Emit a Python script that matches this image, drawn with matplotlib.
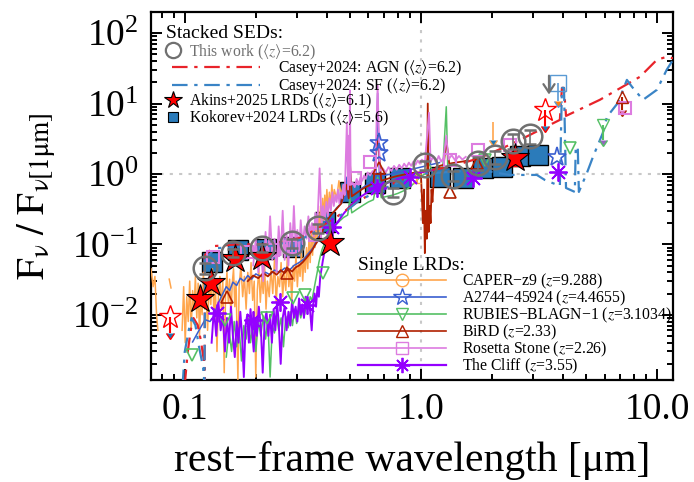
import numpy as np
import matplotlib.pyplot as plt
from matplotlib.lines import Line2D
from matplotlib.ticker import FixedLocator, FixedFormatter, LogLocator, NullFormatter

plt.rcParams['font.family'] = ['Liberation Serif', 'DejaVu Serif']
plt.rcParams['mathtext.fontset'] = 'stix'

nan = np.nan

# ---- stacked SEDs ----
stack_wave = [0.122, 0.160, 0.212, 0.284, 0.366, 0.761, 1.04, 1.37, 1.74, 2.06, 2.45, 2.90]
stack_flux = [0.046, 0.075, 0.089, 0.104, 0.171, 0.555, 1.34, 0.94, 1.43, 1.75, 2.95, 3.47]
stack_err = [0.008, 0.010, 0.012, 0.014, 0.025, 0.08, 0.2, 0.15, 0.3, 0.35, 0.7, 0.8]
stack_lim_wave = [3.49]
stack_lim_flux = [27.3]

akins_wave = [0.116, 0.129, 0.163, 0.212, 0.411, 2.50]
akins_flux = [0.0167, 0.0282, 0.0618, 0.066, 0.105, 1.69]
akins_err = [0.003, 0.005, 0.008, 0.008, 0.015, 0.4]
akins_lim_wave = [0.0863, 3.35]
akins_lim_flux = [0.00924, 8.13]

kok_wave = [0.130, 0.168, 0.220, 0.287, 0.392, 0.500, 0.638, 0.815, 1.20, 1.51, 1.83, 2.20, 2.63, 3.13]
kok_flux = [0.056, 0.083, 0.086, 0.092, 0.21, 0.555, 0.745, 0.877, 0.906, 0.877, 1.22, 1.26, 1.80, 1.86]
kok_lim_wave = [3.81]
kok_lim_flux = [19.7]

agn_wave = [0.100, 0.103, 0.106, 0.109, 0.1135, 0.117, 0.1205, 0.1214, 0.1218, 0.134, 0.171,
            0.229, 0.307, 0.411, 0.552, 0.739, 0.99, 1.33, 1.78, 2.38, 2.90, 3.45, 3.88, 3.96,
            4.04, 4.12, 5.73, 8.47, 10.0, 11.0, 11.7]
agn_flux = [0.0010, 0.00294, 0.0060, 0.00895, 0.00711, 0.00435, 0.00226, 0.0010, 0.0705, 0.0946, 0.100,
            0.100, 0.123, 0.207, 0.427, 0.698, 1.07, 1.26, 1.69, 2.59, 3.59, 4.82, 5.86, 16.7,
            16.7, 6.68, 11.3, 24.0, 41.9, 46.2, 44.0]

sf_wave = [0.098, 0.100, 0.104, 0.107, 0.111, 0.115, 0.1196, 0.1212, 0.1220, 0.134, 0.171,
           0.229, 0.307, 0.411, 0.552, 0.739, 0.99, 1.33, 1.78, 2.38, 3.10, 3.35, 3.88, 3.96,
           4.04, 4.12, 4.49, 4.53, 4.62, 4.67, 5.05, 5.36, 5.90, 6.14, 6.83, 7.46, 7.84, 8.73,
           10.0, 11.0, 11.7]
sf_flux = [0.0010, 0.00294, 0.0060, 0.00895, 0.0071, 0.0035, 0.0018, 0.0010, 0.0598, 0.088, 0.0916,
           0.0946, 0.115, 0.194, 0.427, 0.675, 1.0, 1.07, 1.14, 0.968, 0.968, 0.822, 0.675, 16.7,
           16.7, 0.632, 0.555, 2.42, 2.42, 0.555, 1.03, 1.75, 3.83, 6.47, 10.2, 21.7, 17.3, 11.3,
           15.7, 30.2, 41.9]

# ---- single LRDs: spectra ----
caper_wave = [0.072, 0.0735, 0.0748, 0.0760, 0.0770, nan, 0.0860, 0.0875, nan,
              0.0975, 0.0990, 0.1005, 0.1020, 0.1035, 0.1050, 0.1065, 0.1080, 0.1095, 0.1110,
              0.1125, 0.1140, 0.1155, 0.1170, 0.1185, 0.1200, 0.1215, 0.1230, 0.1250, 0.1270,
              0.1290, 0.1310, 0.1330, 0.1350, 0.1370, 0.1390, 0.1410, 0.1430, 0.1450, 0.1470,
              0.1490, 0.1510, 0.1530, 0.1550, 0.1570, 0.1590, 0.1610, 0.1630, 0.1650, 0.1680,
              0.1700, 0.1730, 0.1760, 0.1790, 0.1820, 0.1850, 0.1880, 0.1910, 0.1940, 0.1970,
              0.2000, 0.2030, 0.2060, 0.2090, 0.2120, 0.2150, 0.2180, 0.2210, 0.2240, 0.2280,
              0.2320, 0.2360, 0.2400, 0.2440, 0.2480, 0.2520, 0.2560, 0.2600, 0.2640, 0.2680,
              0.2720, 0.2760, 0.2800, 0.2840, 0.2880, 0.2920, 0.2960, 0.3000, 0.3040, 0.3080,
              0.3120, 0.3160, 0.3200, 0.3240, 0.3280, 0.3320, 0.3360, 0.3400, 0.3440, 0.3480,
              0.3520, 0.3560, 0.3600, 0.3640, 0.3680, 0.3720, 0.3760, 0.3800, 0.3840, 0.3880,
              0.3920, 0.3960, 0.4000, 0.4050, 0.4100, 0.4150, 0.4200, 0.4250, 0.4300, 0.4400,
              0.4500, 0.4600, 0.4700, 0.4800]
caper_flux = [0.045, 0.025, 0.035, 0.010, 0.006, nan, 0.032, 0.024, nan,
              0.006, 0.025, 0.004, 0.018, 0.008, 0.030, 0.006, 0.022, 0.012, 0.035,
              0.009, 0.028, 0.005, 0.018, 0.010, 0.040, 0.012, 0.025, 0.006, 0.030,
              0.014, 0.045, 0.010, 0.025, 0.003, 0.020, 0.035, 0.012, 0.030, 0.0015,
              0.022, 0.040, 0.015, 0.032, 0.009, 0.028, 0.045, 0.013, 0.030, 0.0012,
              0.025, 0.050, 0.018, 0.035, 0.012, 0.040, 0.020, 0.055, 0.016, 0.030,
              0.0013, 0.022, 0.045, 0.015, 0.035, 0.020, 0.050, 0.012, 0.030, 0.018,
              0.045, 0.020, 0.060, 0.015, 0.035, 0.025, 0.055, 0.018, 0.040, 0.022,
              0.065, 0.025, 0.045, 0.015, 0.050, 0.030, 0.070, 0.025, 0.055, 0.035,
              0.080, 0.030, 0.065, 0.040, 0.090, 0.045, 0.12, 0.055, 0.15, 0.07,
              0.18, 0.09, 0.25, 0.11, 0.30, 0.14, 0.35, 0.18, 0.45, 0.22,
              0.50, 0.28, 0.60, 0.30, 0.55, 0.35, 0.70, 0.40, 0.60, 0.45,
              0.80, 0.50, 0.70, 0.55]

a2744_wave = [0.108, 0.115, 0.122, 0.128, 0.132, 0.138, 0.144, 0.150, 0.155, 0.160, 0.166, 0.172,
              0.178, 0.185, 0.192, 0.200, 0.210, 0.220, 0.230, 0.240, 0.252, 0.265, 0.278, 0.290,
              0.305, 0.320, 0.335, 0.350, 0.365, 0.380, 0.395, 0.410, 0.425, 0.440, 0.460, 0.480,
              0.4861, 0.492, 0.5007, 0.510, 0.530, 0.560, 0.590, 0.620, 0.645, 0.6563, 0.668,
              0.700, 0.750, 0.800, 0.850, 0.900, 0.950, 1.000, 1.050, 1.083, 1.100, 1.150, 1.200]
a2744_flux = [0.0041, 0.006, 0.0085, 0.008, 0.0093, 0.014, 0.019, 0.025, 0.022, 0.029, 0.026, 0.033,
              0.030, 0.036, 0.032, 0.038, 0.035, 0.040, 0.037, 0.043, 0.040, 0.046, 0.043, 0.050,
              0.055, 0.062, 0.075, 0.090, 0.12, 0.15, 0.19, 0.23, 0.28, 0.33, 0.38, 0.45,
              0.9, 0.47, 1.2, 0.5, 0.55, 0.62, 0.70, 0.78, 0.85, 14.0, 0.9,
              0.95, 1.0, 1.05, 1.1, 1.15, 1.2, 1.25, 1.3, 2.0, 1.35, 1.4, 1.45]

rubies_wave = [0.150, 0.154, 0.158, 0.162, 0.166, 0.170, 0.174, 0.178, 0.182, 0.186, 0.190, 0.195,
               0.200, 0.205, 0.210, 0.215, 0.220, 0.225, 0.230, 0.235, 0.240, 0.245, 0.250, 0.256,
               0.262, 0.268, 0.274, 0.280, 0.286, 0.292, 0.298, 0.304, 0.310, 0.316, 0.322, 0.328,
               0.334, 0.340, 0.346, 0.352, 0.358, 0.364, 0.370, 0.376, 0.382, 0.390, 0.400, 0.415,
               0.430, 0.450, 0.470, 0.490, 0.5007, 0.510, 0.540, 0.570, 0.600, 0.630, 0.6563, 0.680,
               0.720, 0.760, 0.800, 0.850, 0.900, 0.950, 1.000, 1.050, 1.083, 1.120, 1.180, 1.240,
               1.2818, 1.300]
rubies_flux = [0.0025, 0.006, 0.003, 0.008, 0.0035, 0.0065, 0.0022, 0.007, 0.0045, 0.009, 0.004, 0.0075,
               0.003, 0.008, 0.005, 0.0095, 0.0045, 0.0085, 0.0013, 0.007, 0.0055, 0.010, 0.006, 0.009,
               0.0035, 0.0095, 0.0065, 0.011, 0.007, 0.012, 0.0075, 0.013, 0.009, 0.012, 0.010, 0.015,
               0.012, 0.018, 0.016, 0.022, 0.030, 0.040, 0.055, 0.070, 0.085, 0.10, 0.12, 0.15,
               0.18, 0.21, 0.24, 0.26, 0.45, 0.28, 0.32, 0.36, 0.40, 0.43, 0.9, 0.46,
               0.48, 0.50, 0.53, 0.58, 0.65, 0.78, 0.92, 1.02, 1.4, 1.10, 1.18, 1.25,
               9.0, 1.28]

bird_wave = [0.185, 0.195, 0.205, 0.215, 0.225, 0.235, 0.245, 0.255, 0.265, 0.275, 0.285, 0.295,
             0.305, 0.315, 0.325, 0.335, 0.345, 0.355, 0.365, 0.375, 0.385, 0.395, 0.405, 0.420,
             0.440, 0.460, 0.4861, 0.495, 0.5007, 0.510, 0.540, 0.570, 0.600, 0.630, 0.6563, 0.680,
             0.720, 0.760, 0.800, 0.850, 0.900, 0.950, 1.000, 1.010, 1.020, 1.030, 1.040, 1.050,
             1.060, 1.070, 1.080, 1.090, 1.100, 1.110, 1.120, 1.140, 1.160, 1.200, 1.250, 1.2818,
             1.320, 1.400, 1.500, 1.580]
bird_flux = [0.030, 0.036, 0.033, 0.039, 0.035, 0.041, 0.037, 0.043, 0.039, 0.045, 0.041, 0.047,
             0.050, 0.055, 0.062, 0.07, 0.08, 0.095, 0.11, 0.13, 0.16, 0.19, 0.23, 0.27,
             0.32, 0.38, 0.7, 0.45, 1.5, 0.48, 0.55, 0.62, 0.68, 0.74, 3.5, 0.80,
             0.85, 0.90, 0.94, 0.98, 1.02, 1.05, 1.05, 0.5, 0.2, 0.6, 0.075, 0.3,
             0.12, 10.0, 0.15, 0.35, 0.2, 0.6, 0.4, 1.1, 1.25, 1.30, 1.35, 3.0,
             1.40, 1.45, 1.50, 1.55]

rosetta_wave = [0.195, 0.200, 0.205, 0.210, 0.215, 0.220, 0.225, 0.230, 0.235, 0.240, 0.245, 0.250,
                0.255, 0.260, 0.265, 0.270, 0.275, 0.280, 0.285, 0.290, 0.295, 0.300, 0.305, 0.310,
                0.316, 0.322, 0.328, 0.334, 0.340, 0.346, 0.352, 0.358, 0.364, 0.3727, 0.380, 0.386,
                0.392, 0.398, 0.404, 0.410, 0.416, 0.422, 0.428, 0.434, 0.440, 0.446, 0.452, 0.458,
                0.464, 0.470, 0.476, 0.4861, 0.492, 0.4959, 0.4985, 0.5007, 0.505, 0.515, 0.525, 0.535,
                0.545, 0.555, 0.565, 0.575, 0.585, 0.595, 0.610, 0.625, 0.640, 0.6563, 0.670, 0.690,
                0.710, 0.730, 0.750, 0.770, 0.790, 0.810, 0.830, 0.850, 0.870, 0.890, 0.910, 0.930,
                0.950, 0.970, 0.990, 1.010, 1.040, 1.083, 1.100, 1.130, 1.160, 1.190, 1.220, 1.250,
                1.2818, 1.310, 1.350, 1.400, 1.450, 1.500, 1.550]
rosetta_flux = [0.05, 0.12, 0.04, 0.09, 0.03, 0.15, 0.05, 0.25, 0.06, 0.12, 0.04, 0.18,
                0.07, 0.30, 0.06, 0.14, 0.05, 0.20, 0.08, 0.35, 0.09, 0.16, 0.07, 0.22,
                0.10, 0.18, 0.12, 0.25, 0.14, 0.20, 0.13, 0.28, 0.16, 1.2, 0.20, 0.35,
                0.22, 0.40, 0.25, 0.45, 0.30, 0.55, 0.35, 0.50, 0.40, 0.60, 0.38, 0.55,
                0.45, 0.70, 0.50, 5.3, 0.60, 3.5, 0.70, 15.5, 0.70, 0.75, 0.65, 0.85,
                0.70, 0.90, 0.80, 0.95, 0.85, 1.05, 0.95, 1.10, 1.00, 18.0, 1.10, 1.20,
                1.05, 1.25, 1.10, 1.30, 1.15, 1.35, 1.20, 1.40, 1.25, 1.45, 1.30, 1.50,
                1.35, 1.55, 1.40, 1.60, 1.45, 7.4, 1.50, 1.75, 1.45, 1.80, 1.50, 1.70,
                3.5, 1.60, 1.85, 1.55, 1.80, 1.60, 1.75]

cliff_wave = [0.130, 0.133, 0.136, 0.139, 0.142, 0.145, 0.148, 0.151, 0.154, 0.157, 0.160, 0.163,
              0.166, 0.169, 0.172, 0.175, 0.178, 0.181, 0.184, 0.187, 0.190, 0.193, 0.196, 0.199,
              0.202, 0.206, 0.210, 0.214, 0.218, 0.222, 0.226, 0.230, 0.234, 0.238, 0.242, 0.246,
              0.250, 0.255, 0.260, 0.265, 0.270, 0.275, 0.280, 0.285, 0.290, 0.295, 0.300, 0.305,
              0.310, 0.315, 0.320, 0.325, 0.330, 0.335, 0.340, 0.345, 0.350, 0.355, 0.360, 0.365,
              0.370, 0.375, 0.380, 0.385, 0.390, 0.395, 0.400, 0.410, 0.420, 0.435, 0.450, 0.470,
              0.490, 0.510, 0.530, 0.560, 0.590, 0.620, 0.656, 0.680, 0.720, 0.760, 0.800, 0.850,
              0.900, 0.950, 1.000, 1.050, 1.100, 1.160]
cliff_flux = [0.004, 0.012, 0.005, 0.015, 0.006, 0.010, 0.003, 0.009, 0.004, 0.013, 0.005, 0.0025,
              0.008, 0.004, 0.011, 0.005, 0.0013, 0.007, 0.010, 0.004, 0.012, 0.006, 0.003, 0.009,
              0.005, 0.013, 0.007, 0.0015, 0.008, 0.011, 0.005, 0.010, 0.004, 0.012, 0.006, 0.015,
              0.008, 0.002, 0.009, 0.013, 0.006, 0.011, 0.007, 0.016, 0.009, 0.013, 0.008, 0.017,
              0.010, 0.014, 0.009, 0.018, 0.012, 0.016, 0.011, 0.006, 0.014, 0.020, 0.013, 0.025,
              0.018, 0.035, 0.045, 0.06, 0.075, 0.09, 0.11, 0.13, 0.16, 0.19, 0.22, 0.27,
              0.32, 0.37, 0.42, 0.48, 0.54, 0.60, 0.75, 0.68, 0.74, 0.80, 0.85, 0.90,
              0.95, 1.0, 1.05, 1.08, 1.12, 1.15]

# ---- single LRDs: photometry ----
caper_pt_wave = [0.96]
caper_pt_flux = [0.88]
caper_lim_wave = [2.02]
caper_lim_flux = [5.5]
a2744_pt_wave = [0.664, 0.664, 3.77]
a2744_pt_flux = [2.76, 1.99, 1.75]
rubies_pt_wave = [0.107, 0.148, 0.2226, 0.287, 0.3224, 0.3845, 1.87, 4.28]
rubies_pt_flux = [0.00266, 0.00838, 0.00895, 0.0172, 0.019, 0.039, 1.58, 2.34]
rubies_lim_wave = [5.9]
rubies_lim_flux = [4.98]
bird_pt_wave = [0.1507, 0.271, 0.664, 1.33, 1.73]
bird_pt_flux = [0.0178, 0.039, 1.22, 0.555, 1.43]
bird_lim_wave = [7.11]
bird_lim_flux = [12.4]
rosetta_pt_wave = [0.1315, 0.183, 0.236, 0.279, 0.356, 0.525, 0.608, 1.33, 1.745, 2.38, 7.32]
rosetta_pt_flux = [0.066, 0.0777, 0.083, 0.0916, 0.1355, 0.877, 1.48, 1.58, 2.2, 2.59, 8.69]
cliff_pt_wave = [0.137, 0.194, 0.253, 0.329, 0.42, 0.651, 0.898, 1.66, 3.81]
cliff_pt_flux = [0.01054, 0.00838, 0.0151, 0.0137, 0.176, 0.632, 0.906, 0.877, 1.07]

c_gray = '#707070'
c_agn = '#e8232a'
c_sf = '#3a84c6'
c_kok = '#2b7bba'
c_caper = '#ffa64d'
c_a2744 = '#3a5fd0'
c_rubies = '#55c065'
c_bird = '#b02000'
c_rosetta = '#dd7ce0'
c_cliff = '#9400ff'
dashdot = (0, (7, 3, 1.5, 3))
asterisk = (8, 2, 0)

fig = plt.figure(figsize=(6.94, 4.82), dpi=100)
ax = fig.add_axes([0.2176, 0.2116, 0.7522, 0.7635])
ax.set_xscale('log')
ax.set_yscale('log')

ax.axvline(1.0, color='#c8c8c8', ls=(0, (1.5, 3)), lw=1.5, zorder=1)
ax.axhline(1.0, color='#c8c8c8', ls=(0, (1.5, 3)), lw=1.5, zorder=1)

# Kokorev squares in the back
ax.plot(kok_wave, kok_flux, 's', ms=14, mfc=c_kok, mec='black', mew=1.0, zorder=3)
ax.errorbar(kok_lim_wave, kok_lim_flux, yerr=[0.45 * v for v in kok_lim_flux], uplims=True,
            fmt='s', ms=11, mfc='none', mec='#5a9ad4', ecolor='#5a9ad4', elinewidth=1.2, zorder=6)

# spectra
ax.plot(caper_wave, caper_flux, color=c_caper, lw=1.1, zorder=4)
ax.plot(a2744_wave, a2744_flux, color=c_a2744, lw=1.1, zorder=4)
ax.plot(rubies_wave, rubies_flux, color=c_rubies, lw=1.1, zorder=4)
ax.plot(bird_wave, bird_flux, color=c_bird, lw=1.3, zorder=4)
ax.plot(rosetta_wave, rosetta_flux, color=c_rosetta, lw=1.3, zorder=4)
ax.plot(cliff_wave, cliff_flux, color=c_cliff, lw=1.4, zorder=4)

# Casey+2024 models
ax.plot(agn_wave, agn_flux, color=c_agn, ls=dashdot, lw=1.6, zorder=5)
ax.plot(sf_wave, sf_flux, color=c_sf, ls=dashdot, lw=1.6, zorder=5)

# photometry of single LRDs
ax.errorbar(caper_pt_wave, caper_pt_flux, yerr=[0.15 * v for v in caper_pt_flux], fmt='none',
            ecolor=c_caper, capsize=3, zorder=6)
ax.errorbar(caper_lim_wave, caper_lim_flux, yerr=[0.45 * v for v in caper_lim_flux], uplims=True,
            fmt='none', ecolor=c_caper, elinewidth=1.2, zorder=6)
ax.plot(a2744_pt_wave, a2744_pt_flux, '*', ms=14, mfc='none', mec=c_a2744, mew=1.2, zorder=6)
ax.plot(rubies_pt_wave, rubies_pt_flux, 'v', ms=9, mfc='none', mec=c_rubies, mew=1.2, zorder=6)
ax.errorbar(rubies_lim_wave, rubies_lim_flux, yerr=[0.4 * v for v in rubies_lim_flux], uplims=True,
            fmt='v', ms=9, mfc='none', mec=c_rubies, ecolor=c_rubies, zorder=6)
ax.plot(bird_pt_wave, bird_pt_flux, '^', ms=9, mfc='none', mec=c_bird, mew=1.2, zorder=6)
ax.errorbar(bird_lim_wave, bird_lim_flux, yerr=[0.35 * v for v in bird_lim_flux], uplims=True,
            fmt='^', ms=8, mfc='none', mec=c_bird, ecolor=c_bird, zorder=6)
ax.plot(rosetta_pt_wave, rosetta_pt_flux, 's', ms=9, mfc='none', mec=c_rosetta, mew=1.5, zorder=6)
ax.plot(cliff_pt_wave, cliff_pt_flux, marker=asterisk, ls='none', ms=13, mec=c_cliff, mew=1.3, zorder=6)

# Akins stars
ax.errorbar(akins_wave, akins_flux, yerr=akins_err, fmt='none', ecolor='red', capsize=3, zorder=7)
ax.plot(akins_wave, akins_flux, '*', ms=21, mfc='red', mec='black', mew=0.8, zorder=7)
ax.errorbar(akins_lim_wave, akins_lim_flux, yerr=[0.4 * v for v in akins_lim_flux], uplims=True,
            fmt='*', ms=17, mfc='none', mec='red', ecolor='red', mew=1.0, zorder=7)

# stacked points of this work
ax.errorbar(stack_wave, stack_flux, yerr=stack_err, fmt='o', ms=17, mfc='none', mec=c_gray,
            mew=1.8, ecolor=c_gray, elinewidth=1.2, capsize=4, zorder=8)
for w, f in zip(stack_lim_wave, stack_lim_flux):
    ax.annotate('', xy=(w, f * 0.45), xytext=(w, f),
                arrowprops=dict(arrowstyle='->,head_length=0.6,head_width=0.4', color=c_gray, lw=1.6),
                zorder=8)

ax.set_xlim(0.072, 11.7)
ax.set_ylim(0.00118, 200)

ax.xaxis.set_major_locator(FixedLocator([0.1, 1.0, 10.0]))
ax.xaxis.set_major_formatter(FixedFormatter(['0.1', '1.0', '10.0']))
ax.xaxis.set_minor_locator(LogLocator(base=10, subs=np.arange(2, 10)))
ax.xaxis.set_minor_formatter(NullFormatter())
ax.yaxis.set_major_locator(LogLocator(base=10, numticks=12))
ax.yaxis.set_minor_locator(LogLocator(base=10, subs=np.arange(2, 10), numticks=12))
ax.yaxis.set_minor_formatter(NullFormatter())
ax.tick_params(which='both', direction='in', top=True, right=True, width=1.4)
ax.tick_params(which='major', length=8, labelsize=27, pad=9)
ax.tick_params(which='minor', length=4)
for s in ax.spines.values():
    s.set_linewidth(1.6)

ax.set_xlabel('rest\u2212frame wavelength [\u03bcm]', fontsize=30, labelpad=10)
ax.set_ylabel(r'$\mathrm{F_{ν}\ /\ F_{ν[1μm]}}$', fontsize=28, labelpad=10)

# ---- legends ----
fs = 11.3
h_this = Line2D([], [], ls='none', marker='o', ms=11, mfc='none', mec=c_gray, mew=1.6)
leg1 = ax.legend([h_this], [r'This work ($\langle z\rangle$=6.2)'], title='Stacked SEDs:',
                 loc='upper left', bbox_to_anchor=(0.029, 0.966), frameon=False, fontsize=fs,
                 title_fontsize=14, handlelength=0.9, handletextpad=0.55, borderpad=0,
                 borderaxespad=0, alignment='left', labelspacing=0.05)
leg1.get_texts()[0].set_color(c_gray)
ax.add_artist(leg1)

h_agn = Line2D([], [], color=c_agn, ls=dashdot, lw=1.6)
h_sf = Line2D([], [], color=c_sf, ls=dashdot, lw=1.6)
leg2 = ax.legend([h_agn, h_sf], [r'Casey+2024: AGN ($\langle z\rangle$=6.2)',
                                 r'Casey+2024: SF ($\langle z\rangle$=6.2)'],
                 loc='upper left', bbox_to_anchor=(0.040, 0.874), frameon=False, fontsize=fs,
                 handlelength=5.6, handletextpad=1.15, borderpad=0, borderaxespad=0,
                 labelspacing=-0.15)
ax.add_artist(leg2)

h_akins = Line2D([], [], ls='none', marker='*', ms=13, mfc='red', mec='black', mew=0.8)
h_kok = Line2D([], [], ls='none', marker='s', ms=7, mfc=c_kok, mec='black', mew=0.8)
leg3 = ax.legend([h_akins, h_kok], [r'Akins+2025 LRDs ($\langle z\rangle$=6.1)',
                                    r'Kokorev+2024 LRDs ($\langle z\rangle$=5.6)'],
                 loc='upper left', bbox_to_anchor=(0.029, 0.784), frameon=False, fontsize=fs,
                 handlelength=0.9, handletextpad=0.55, borderpad=0, borderaxespad=0,
                 labelspacing=-0.1)
ax.add_artist(leg3)

single_handles = [
    Line2D([], [], color=c_caper, lw=1.2, marker='o', ms=9, mfc='none', mec=c_caper),
    Line2D([], [], color=c_a2744, lw=1.2, marker='*', ms=13, mfc='none', mec=c_a2744),
    Line2D([], [], color=c_rubies, lw=1.2, marker='v', ms=9, mfc='none', mec=c_rubies),
    Line2D([], [], color=c_bird, lw=1.2, marker='^', ms=9, mfc='none', mec=c_bird),
    Line2D([], [], color=c_rosetta, lw=1.2, marker='s', ms=9, mfc='none', mec=c_rosetta),
    Line2D([], [], color=c_cliff, lw=1.6, marker=asterisk, ms=11, mec=c_cliff, mew=1.3),
]
single_labels = [r'CAPER−z9 ($z$=9.288)', r'A2744−45924 ($z$=4.4655)',
                 r'RUBIES−BLAGN−1 ($z$=3.1034)', r'BiRD ($z$=2.33)',
                 r'Rosetta Stone ($z$=2.26)', r'The Cliff ($z$=3.55)']
leg4 = ax.legend(single_handles, single_labels, title='Single LRDs:', loc='upper left',
                 bbox_to_anchor=(0.397, 0.333), frameon=False, fontsize=fs, title_fontsize=14,
                 handlelength=5.6, handletextpad=1.0, borderpad=0, borderaxespad=0,
                 alignment='left', labelspacing=-0.15, numpoints=1)

fig.savefig('out.png', dpi=100)
